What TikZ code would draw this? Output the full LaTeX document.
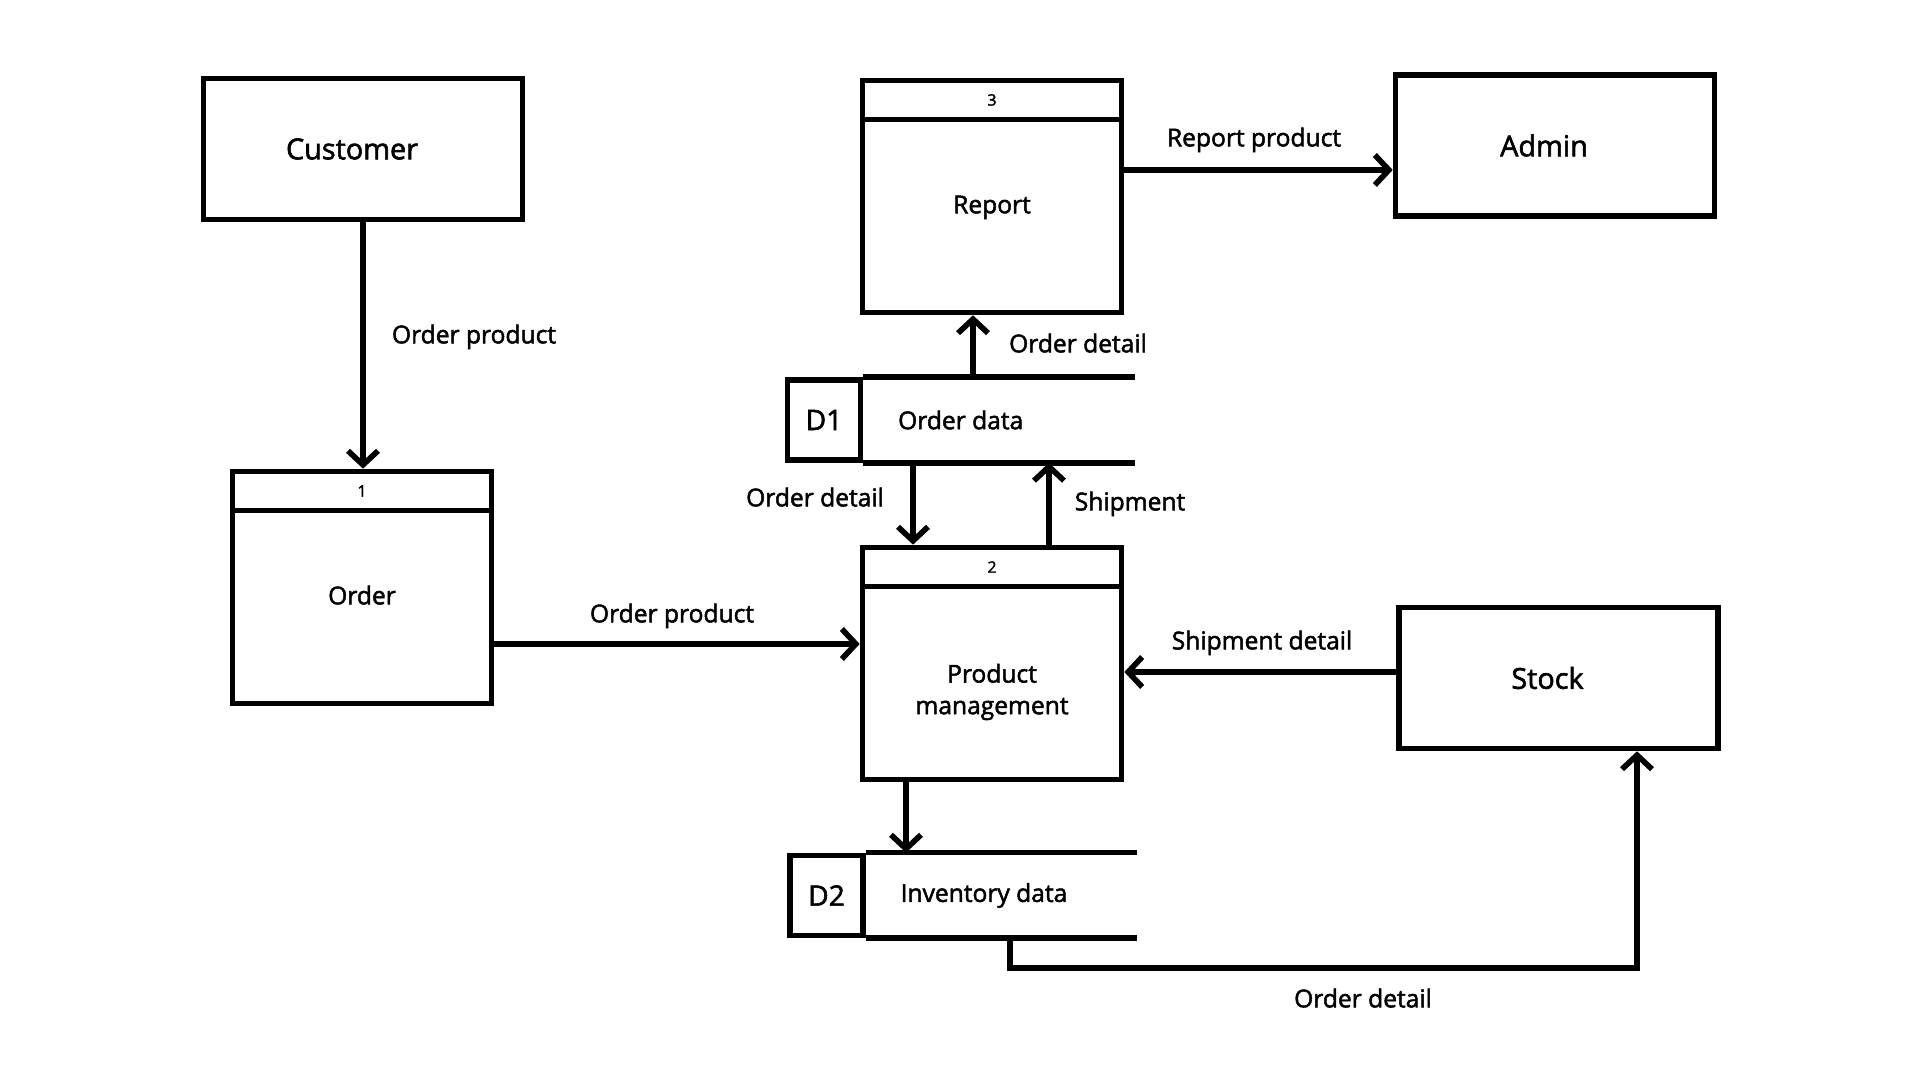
\documentclass[tikz,border=0pt]{standalone}
\usepackage{fontspec}
\setmainfont{Open Sans}[FakeBold=2]
\usetikzlibrary{positioning,arrows.meta}
\begin{document}
\begin{tikzpicture}[
  line width=1.6pt, font=\fontsize{7}{9}\selectfont,
  every node/.style={inner sep=0pt, align=center}
]
\tikzset{
  entidade/.style={draw, minimum width=3.19cm, minimum height=1.41cm, font=\fontsize{8.2}{10}\selectfont,
    execute at end node=\hspace*{2.2mm}},
  cabeca/.style={draw, minimum width=2.59cm, minimum height=0.39cm, font=\fontsize{4.5}{5}\selectfont},
  processo/.style={draw, minimum width=2.59cm, minimum height=1.93cm},
  deposito/.style={draw, minimum width=0.73cm, minimum height=0.80cm, font=\fontsize{8}{10}\selectfont},
  rotulo/.style={text depth=0pt},
  fluxo/.style={-{Straight Barb[length=1.4mm,width=3mm]}}
}
\useasboundingbox (0,0) rectangle (19.2,10.8);

\node[entidade] (cliente) at (3.63,9.31) {Customer};
\node[entidade] (admin) at (15.55,9.345) {Admin};
\node[entidade] (estoque) at (15.585,4.02) {Stock};

\node[cabeca] (p1cab) at (3.62,5.89) {1};
\node[processo, below=-1.6pt of p1cab, text depth=2.4mm] (p1) {Order};
\node[cabeca] (p2cab) at (9.92,5.13) {2};
\node[processo, below=-1.6pt of p2cab] (p2) {};
\node (p2txt) at ([yshift=-0.9mm]p2.center) {Product\\management};
\node[cabeca] (p3cab) at (9.92,9.80) {3};
\node[processo, below=-1.6pt of p3cab, text depth=2.3mm] (p3) {Report};

% depositos abertos à direita
\node[deposito] (d1) at (8.24,6.60) {D1};
\node[right=0.32 of d1] (d1txt) {Order data};
\draw (d1.north east) -- ++(2.72,0) (d1.south east) -- ++(2.72,0);
\node[deposito] (d2) at (8.265,1.845) {D2};
\node[right=0.32 of d2] (d2txt) {Inventory data};
\draw (d2.north east) -- ++(2.71,0) (d2.south east) -- ++(2.71,0);

\draw[fluxo] (cliente.south) -- (cliente.south |- p1cab.north);
\draw[fluxo] ([yshift=-3.7mm]p1.east) -- ([yshift=-3.7mm]p1.east -| p2.west);
\draw[fluxo] ([yshift=0.6mm]estoque.west) -- ([yshift=0.6mm]estoque.west -| p2.east);
\draw[fluxo] ([yshift=-2.45mm]admin.west -| p3.east) -- ([yshift=-2.45mm]admin.west);
\draw[fluxo] ([xshift=-1.9mm]p3.south |- d1.north) -- ([xshift=-1.9mm]p3.south);
\draw[fluxo] ([xshift=-7.9mm]p2cab.north |- d1.south) -- ([xshift=-7.9mm]p2cab.north);
\draw[fluxo] ([xshift=5.7mm]p2cab.north) -- ([xshift=5.7mm]p2cab.north |- d1.south);
\draw[fluxo] ([xshift=-8.6mm]p2.south) -- ([xshift=-8.6mm]p2.south |- d2.north);
\coordinate (dobra) at (10.10,1.12);
\draw[fluxo] (dobra |- d2.south) -- (dobra) -| ([xshift=7.85mm]estoque.south);

\node[rotulo] (l1) at (4.74,7.46) {Order product};
\node[rotulo] (l2) at (6.72,4.67) {Order product};
\node[rotulo] (l3) at (12.62,4.40) {Shipment detail};
\node[rotulo] (l4) at (12.54,9.43) {Report product};
\node[rotulo] (l5) at (10.78,7.37) {Order detail};
\node[rotulo] (l6) at (8.15,5.83) {Order detail};
\node[rotulo] (l7) at (11.30,5.79) {Shipment};
\node[rotulo] (l8) at (13.63,0.82) {Order detail};
\end{tikzpicture}
\end{document}
